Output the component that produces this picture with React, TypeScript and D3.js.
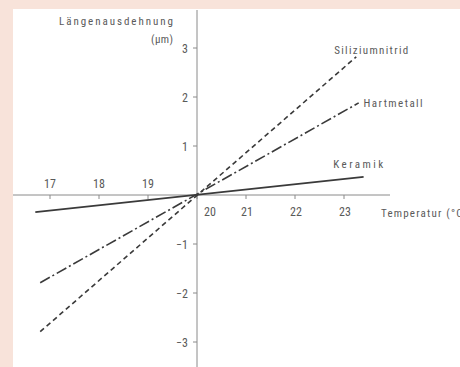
import React from "react";
import * as d3 from "d3";

const W = 460;
const H = 367;

const xTicksAbove = [17, 18, 19];
const xTicksBelow = [20, 21, 22, 23];
const yTicks = [-3, -2, -1, 1, 2, 3];

const seriesNames = ["Siliziumnitrid", "Hartmetall", "Keramik"];
const seriesX = [
  [16.8, 23.25],
  [16.8, 23.3],
  [16.7, 23.4],
];
const seriesY = [
  [-2.79, 2.82],
  [-1.79, 1.88],
  [-0.35, 0.37],
];
const seriesDash = ["5,3.5", "11,3,2,3", ""];

const xLabel = "Temperatur (°C)";
const yLabel1 = "Längenausdehnung";
const yLabel2 = "(µm)";

export default function App() {
  const x = d3.scaleLinear().domain([20, 23]).range([197, 344]);
  const y = d3.scaleLinear().domain([0, 3]).range([195, 48]);
  const line = d3
    .line<[number, number]>()
    .x((d) => x(d[0]))
    .y((d) => y(d[1]));

  const font = "'Liberation Sans Narrow', 'Roboto Condensed', 'Liberation Sans', sans-serif";
  const textColor = "#5a5a5a";
  const axisColor = "#8a8a8a";

  // label anchor: start x (px offset handled via scale), value y, textLength
  const labelPos: [number, number, number][] = [
    [22.8, 2.95, 74],
    [23.4, 1.88, 59],
    [22.78, 0.63, 50],
  ];

  return (
    <svg
      width={W}
      height={H}
      style={{ position: "absolute", left: 0, top: 0, display: "block" }}
      fontFamily={font}
    >
      <rect x={0} y={0} width={W} height={H} fill="#f8e3da" />
      <rect x={13} y={9} width={W - 13} height={H - 9} fill="#ffffff" />

      {/* axes */}
      <line x1={13} x2={390} y1={y(0)} y2={y(0)} stroke={axisColor} strokeWidth={1} />
      <line x1={x(20)} x2={x(20)} y1={10} y2={H} stroke={axisColor} strokeWidth={1} />

      {/* x ticks */}
      {[...xTicksAbove, ...xTicksBelow].map((t) => (
        <line key={"xt" + t} x1={x(t)} x2={x(t)} y1={y(0)} y2={y(0) + 4} stroke={axisColor} />
      ))}
      {xTicksAbove.map((t) => (
        <text key={"xa" + t} x={x(t)} y={188} textAnchor="middle" fontSize={12} fill={textColor}>
          {t}
        </text>
      ))}
      {xTicksBelow.map((t) => (
        <text
          key={"xb" + t}
          x={t === 20 ? x(t) + 13 : x(t) + 1}
          y={216}
          textAnchor="middle"
          fontSize={12}
          fill={textColor}
        >
          {t}
        </text>
      ))}
      <text x={381} y={217} fontSize={11} fill={textColor} textLength={86} lengthAdjust="spacing">
        {xLabel}
      </text>

      {/* y ticks */}
      {yTicks.map((t) => (
        <g key={"yt" + t}>
          <line x1={x(20) - 4} x2={x(20)} y1={y(t)} y2={y(t)} stroke={axisColor} />
          <text x={x(20) - 9} y={y(t) + 4.5} textAnchor="end" fontSize={12} fill={textColor}>
            {t < 0 ? "\u2212" + Math.abs(t) : t}
          </text>
        </g>
      ))}
      <text x={59} y={25} fontSize={11} fill={textColor} textLength={114} lengthAdjust="spacing">
        {yLabel1}
      </text>
      <text x={151} y={43} fontSize={11} fill={textColor} textLength={22} lengthAdjust="spacing">
        {yLabel2}
      </text>

      {/* series */}
      {seriesNames.map((name, i) => (
        <path
          key={name}
          d={line(seriesX[i].map((v, j) => [v, seriesY[i][j]] as [number, number])) || ""}
          fill="none"
          stroke="#3a3a3a"
          strokeWidth={1.6}
          strokeDasharray={seriesDash[i] || undefined}
        />
      ))}
      {seriesNames.map((name, i) => (
        <text
          key={"l" + name}
          x={x(labelPos[i][0])}
          y={y(labelPos[i][1]) + 4}
          fontSize={11}
          fill={textColor}
          textLength={labelPos[i][2]}
          lengthAdjust="spacing"
        >
          {name}
        </text>
      ))}
    </svg>
  );
}
